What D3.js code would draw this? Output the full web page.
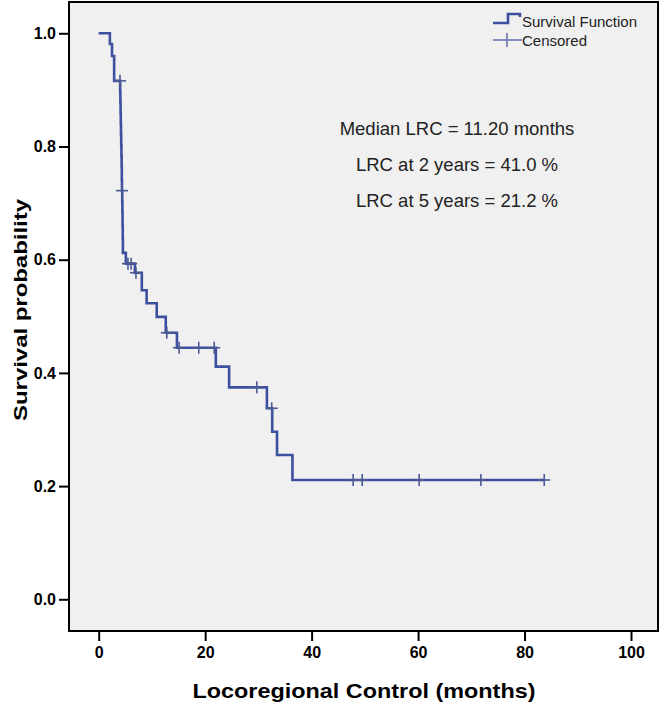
<!DOCTYPE html>
<html>
<head>
<meta charset="utf-8">
<script src="https://cdn.jsdelivr.net/npm/d3@7"></script>
<style>
  body { margin: 0; background: #fff; }
  svg { display: block; font-family: "Liberation Sans", Arial, sans-serif; }
</style>
</head>
<body>
<script>
// Kaplan-Meier steps: time (months), survival from that time on
var stepTimes = [0, 2.1, 2.5, 2.9, 4.03, 4.07, 4.11, 4.15, 4.19, 4.23, 4.27, 4.31, 4.34, 4.37,
                 4.42, 4.45, 4.48, 4.52, 4.55, 5.1, 6.8, 8.1, 9.0, 10.9, 12.6, 14.7, 22.0, 24.5,
                 31.6, 32.6, 33.5, 36.4];
var stepSurv  = [1.0, 0.981, 0.96, 0.916, 0.897, 0.878, 0.859, 0.840, 0.821, 0.802, 0.783, 0.764, 0.741, 0.722,
                 0.703, 0.684, 0.660, 0.636, 0.612, 0.593, 0.577, 0.546, 0.523, 0.499, 0.471, 0.4445, 0.411,
                 0.3745, 0.3375, 0.296, 0.255, 0.2108];
var censorTimes = [4.0, 4.4, 5.5, 6.1, 7.0, 12.8, 15.1, 18.8, 21.7, 29.7, 32.5, 47.8, 49.5, 60.2, 71.8, 83.7];

var xTicks = [0, 20, 40, 60, 80, 100];
var yTicks = [0, 0.2, 0.4, 0.6, 0.8, 1.0];

var notes = ["Median LRC = 11.20 months", "LRC at 2 years = 41.0 %", "LRC at 5 years = 21.2 %"];
var legendItems = ["Survival Function", "Censored"];

var width = 663, height = 704;
var blue = "#3d4f9f";

var svg = d3.select("body").append("svg")
    .attr("width", width)
    .attr("height", height);

var x = d3.scaleLinear().domain([0, 100]).range([98.7, 631]);
var y = d3.scaleLinear().domain([0, 1]).range([599.3, 33.3]);

// panel
var frame = {left: 69, top: 2, right: 658, bottom: 631};
svg.append("rect")
    .attr("x", frame.left).attr("y", frame.top)
    .attr("width", frame.right - frame.left)
    .attr("height", frame.bottom - frame.top)
    .attr("fill", "#f0f0f0")
    .attr("stroke", "#000")
    .attr("stroke-width", 2);

// survival at time t
function survAt(t) {
  var s = 1;
  for (var i = 0; i < stepTimes.length; i++) {
    if (stepTimes[i] <= t) s = stepSurv[i];
  }
  return s;
}

var pts = stepTimes.map(function(t, i) { return [t, stepSurv[i]]; });
var lastT = censorTimes[censorTimes.length - 1];
pts.push([lastT, survAt(lastT)]);

var line = d3.line()
    .x(function(d) { return x(d[0]); })
    .y(function(d) { return y(d[1]); })
    .curve(d3.curveStepAfter);

svg.append("path")
    .datum(pts)
    .attr("d", line)
    .attr("fill", "none")
    .attr("stroke", blue)
    .attr("stroke-width", 2.6);

// censored marks
var cs = 6;
var marks = svg.append("g").attr("stroke", "#4b5a92").attr("stroke-width", 1.6);
censorTimes.forEach(function(t) {
  var cx = x(t), cy = y(survAt(t));
  marks.append("line").attr("x1", cx - cs).attr("x2", cx + cs).attr("y1", cy).attr("y2", cy);
  marks.append("line").attr("x1", cx).attr("x2", cx).attr("y1", cy - cs).attr("y2", cy + cs);
});

// axes
var yAxis = svg.append("g")
    .attr("transform", "translate(" + frame.left + ",0)")
    .call(d3.axisLeft(y).tickValues(yTicks).tickFormat(d3.format(".1f")).tickSize(10).tickPadding(3));
var xAxis = svg.append("g")
    .attr("transform", "translate(0," + frame.bottom + ")")
    .call(d3.axisBottom(x).tickValues(xTicks).tickFormat(d3.format("d")).tickSize(10).tickPadding(6));

[xAxis, yAxis].forEach(function(a) {
  a.select(".domain").remove();
  a.selectAll(".tick line").attr("stroke", "#000").attr("stroke-width", 2);
  a.selectAll(".tick text")
    .attr("fill", "#000")
    .style("font-family", "'Liberation Sans', Arial, sans-serif")
    .style("font-size", "16px")
    .style("font-weight", "bold");
});

// axis titles
svg.append("text")
    .attr("x", 364).attr("y", 698)
    .attr("text-anchor", "middle")
    .attr("textLength", 343).attr("lengthAdjust", "spacingAndGlyphs")
    .style("font-size", "21px").style("font-weight", "bold")
    .text("Locoregional Control (months)");

svg.append("text")
    .attr("transform", "translate(27,310) rotate(-90)")
    .attr("text-anchor", "middle")
    .attr("textLength", 222).attr("lengthAdjust", "spacingAndGlyphs")
    .style("font-size", "19px").style("font-weight", "bold")
    .text("Survival probability");

// annotation
svg.selectAll(".note")
    .data(notes)
    .enter().append("text")
    .attr("class", "note")
    .attr("x", 457)
    .attr("y", function(d, i) { return 135 + i * 36; })
    .attr("text-anchor", "middle")
    .attr("fill", "#222")
    .style("font-size", "18.5px")
    .text(function(d) { return d; });

// legend
var lg = svg.append("g");
lg.append("path")
    .attr("d", "M493,23H508V14H520V17")
    .attr("fill", "none").attr("stroke", blue).attr("stroke-width", 2.6);
lg.append("line").attr("x1", 493).attr("x2", 522).attr("y1", 40).attr("y2", 40)
    .attr("stroke", "#6070a8").attr("stroke-width", 1.5);
lg.append("line").attr("x1", 507).attr("x2", 507).attr("y1", 33).attr("y2", 47)
    .attr("stroke", "#6070a8").attr("stroke-width", 1.5);
lg.selectAll("text")
    .data(legendItems)
    .enter().append("text")
    .attr("x", 522)
    .attr("y", function(d, i) { return 27 + i * 19; })
    .attr("fill", "#222")
    .style("font-size", "15px")
    .text(function(d) { return d; });
</script>
</body>
</html>
